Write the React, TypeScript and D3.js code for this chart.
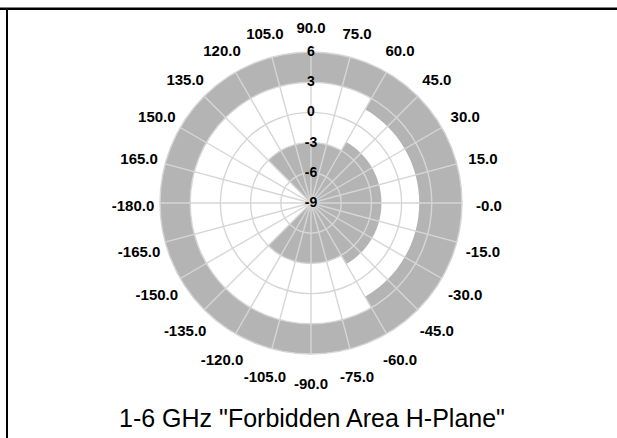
import React from "react";
import * as d3 from "d3";

const WIDTH = 617;
const HEIGHT = 438;
const CX = 311;
const CY = 203;
const RADIUS = 151;

// radial axis (dB)
const radialTicks = [-9, -6, -3, 0, 3, 6];
// angle axis, degrees counter-clockwise from east
const angleValues = [0, 15, 30, 45, 60, 75, 90, 105, 120, 135, 150, 165, 180, -165, -150, -135, -120, -105, -90, -75, -60, -45, -30, -15];
const angleLabels = ["-0.0", "15.0", "30.0", "45.0", "60.0", "75.0", "90.0", "105.0", "120.0", "135.0", "150.0", "165.0", "-180.0", "-165.0", "-150.0", "-135.0", "-120.0", "-105.0", "-90.0", "-75.0", "-60.0", "-45.0", "-30.0", "-15.0"];

// forbidden area above the upper limit: [from angle, to angle, limit]
const upperFrom = [-180, -60, 60];
const upperTo = [-60, 60, 180];
const upperLimit = [3, 1.75, 3];

// forbidden area below the lower limit
const lowerFrom = [-135, -60, 60];
const lowerTo = [-60, 60, 135];
const lowerLimit = [-3, -2, -3];

const TITLE = '1-6 GHz "Forbidden Area H-Plane"';

const toRad = (deg: number) => (deg * Math.PI) / 180;

export default function App() {
  React.useEffect(() => {
    document.body.style.margin = "0";
    document.body.style.overflow = "hidden";
  }, []);

  const r = d3.scaleLinear().domain([-9, 6]).range([0, RADIUS]);
  const arc = d3.arc<{ a0: number; a1: number; r0: number; r1: number }>()
    .startAngle((d) => toRad(90 - d.a1))
    .endAngle((d) => toRad(90 - d.a0))
    .innerRadius((d) => d.r0)
    .outerRadius((d) => d.r1);

  const upperZones = upperFrom.map((a0, i) => ({
    a0,
    a1: upperTo[i],
    r0: r(upperLimit[i]),
    r1: r(6),
  }));
  const lowerZones = lowerFrom.map((a0, i) => ({
    a0,
    a1: lowerTo[i],
    r0: 0,
    r1: r(lowerLimit[i]),
  }));

  const labelR = 178;

  return (
    <svg
      width={WIDTH}
      height={HEIGHT}
      style={{ position: "fixed", left: 0, top: 0, background: "#fff", display: "block" }}
      fontFamily="Arial, 'Liberation Sans', sans-serif"
    >
      <line x1={0} x2={WIDTH} y1={8.75} y2={8.75} stroke="#000" strokeWidth={2.5} />
      <line x1={7} x2={7} y1={8} y2={HEIGHT} stroke="#000" strokeWidth={2} />

      <g transform={`translate(${CX},${CY})`}>
        {[...upperZones, ...lowerZones].map((d, i) => (
          <path key={i} d={arc(d) || ""} fill="#b4b4b4" stroke="none" />
        ))}
        <g stroke="#d6d6d6" strokeWidth={1.4} fill="none">
          {radialTicks.slice(1).map((v) => (
            <circle key={v} r={r(v)} />
          ))}
          {angleValues.map((a) => (
            <line
              key={a}
              x1={0}
              y1={0}
              x2={r(6) * Math.cos(toRad(a))}
              y2={-r(6) * Math.sin(toRad(a))}
            />
          ))}
        </g>
        <g fontSize={14} fontWeight="bold" fill="#000" textAnchor="middle">
          {radialTicks.map((v) => (
            <text key={v} x={0} y={-r(v) - 1} dominantBaseline="central">
              {v}
            </text>
          ))}
        </g>
        <g fontSize={15} fontWeight="bold" fill="#000" textAnchor="middle">
          {angleValues.map((a, i) => (
            <text
              key={a}
              x={labelR * Math.cos(toRad(a))}
              y={2 - labelR * Math.sin(toRad(a))}
              dominantBaseline="central"
            >
              {angleLabels[i]}
            </text>
          ))}
        </g>
      </g>
      <text x={312} y={427} fontSize={25} textAnchor="middle" fill="#000">
        {TITLE}
      </text>
    </svg>
  );
}
